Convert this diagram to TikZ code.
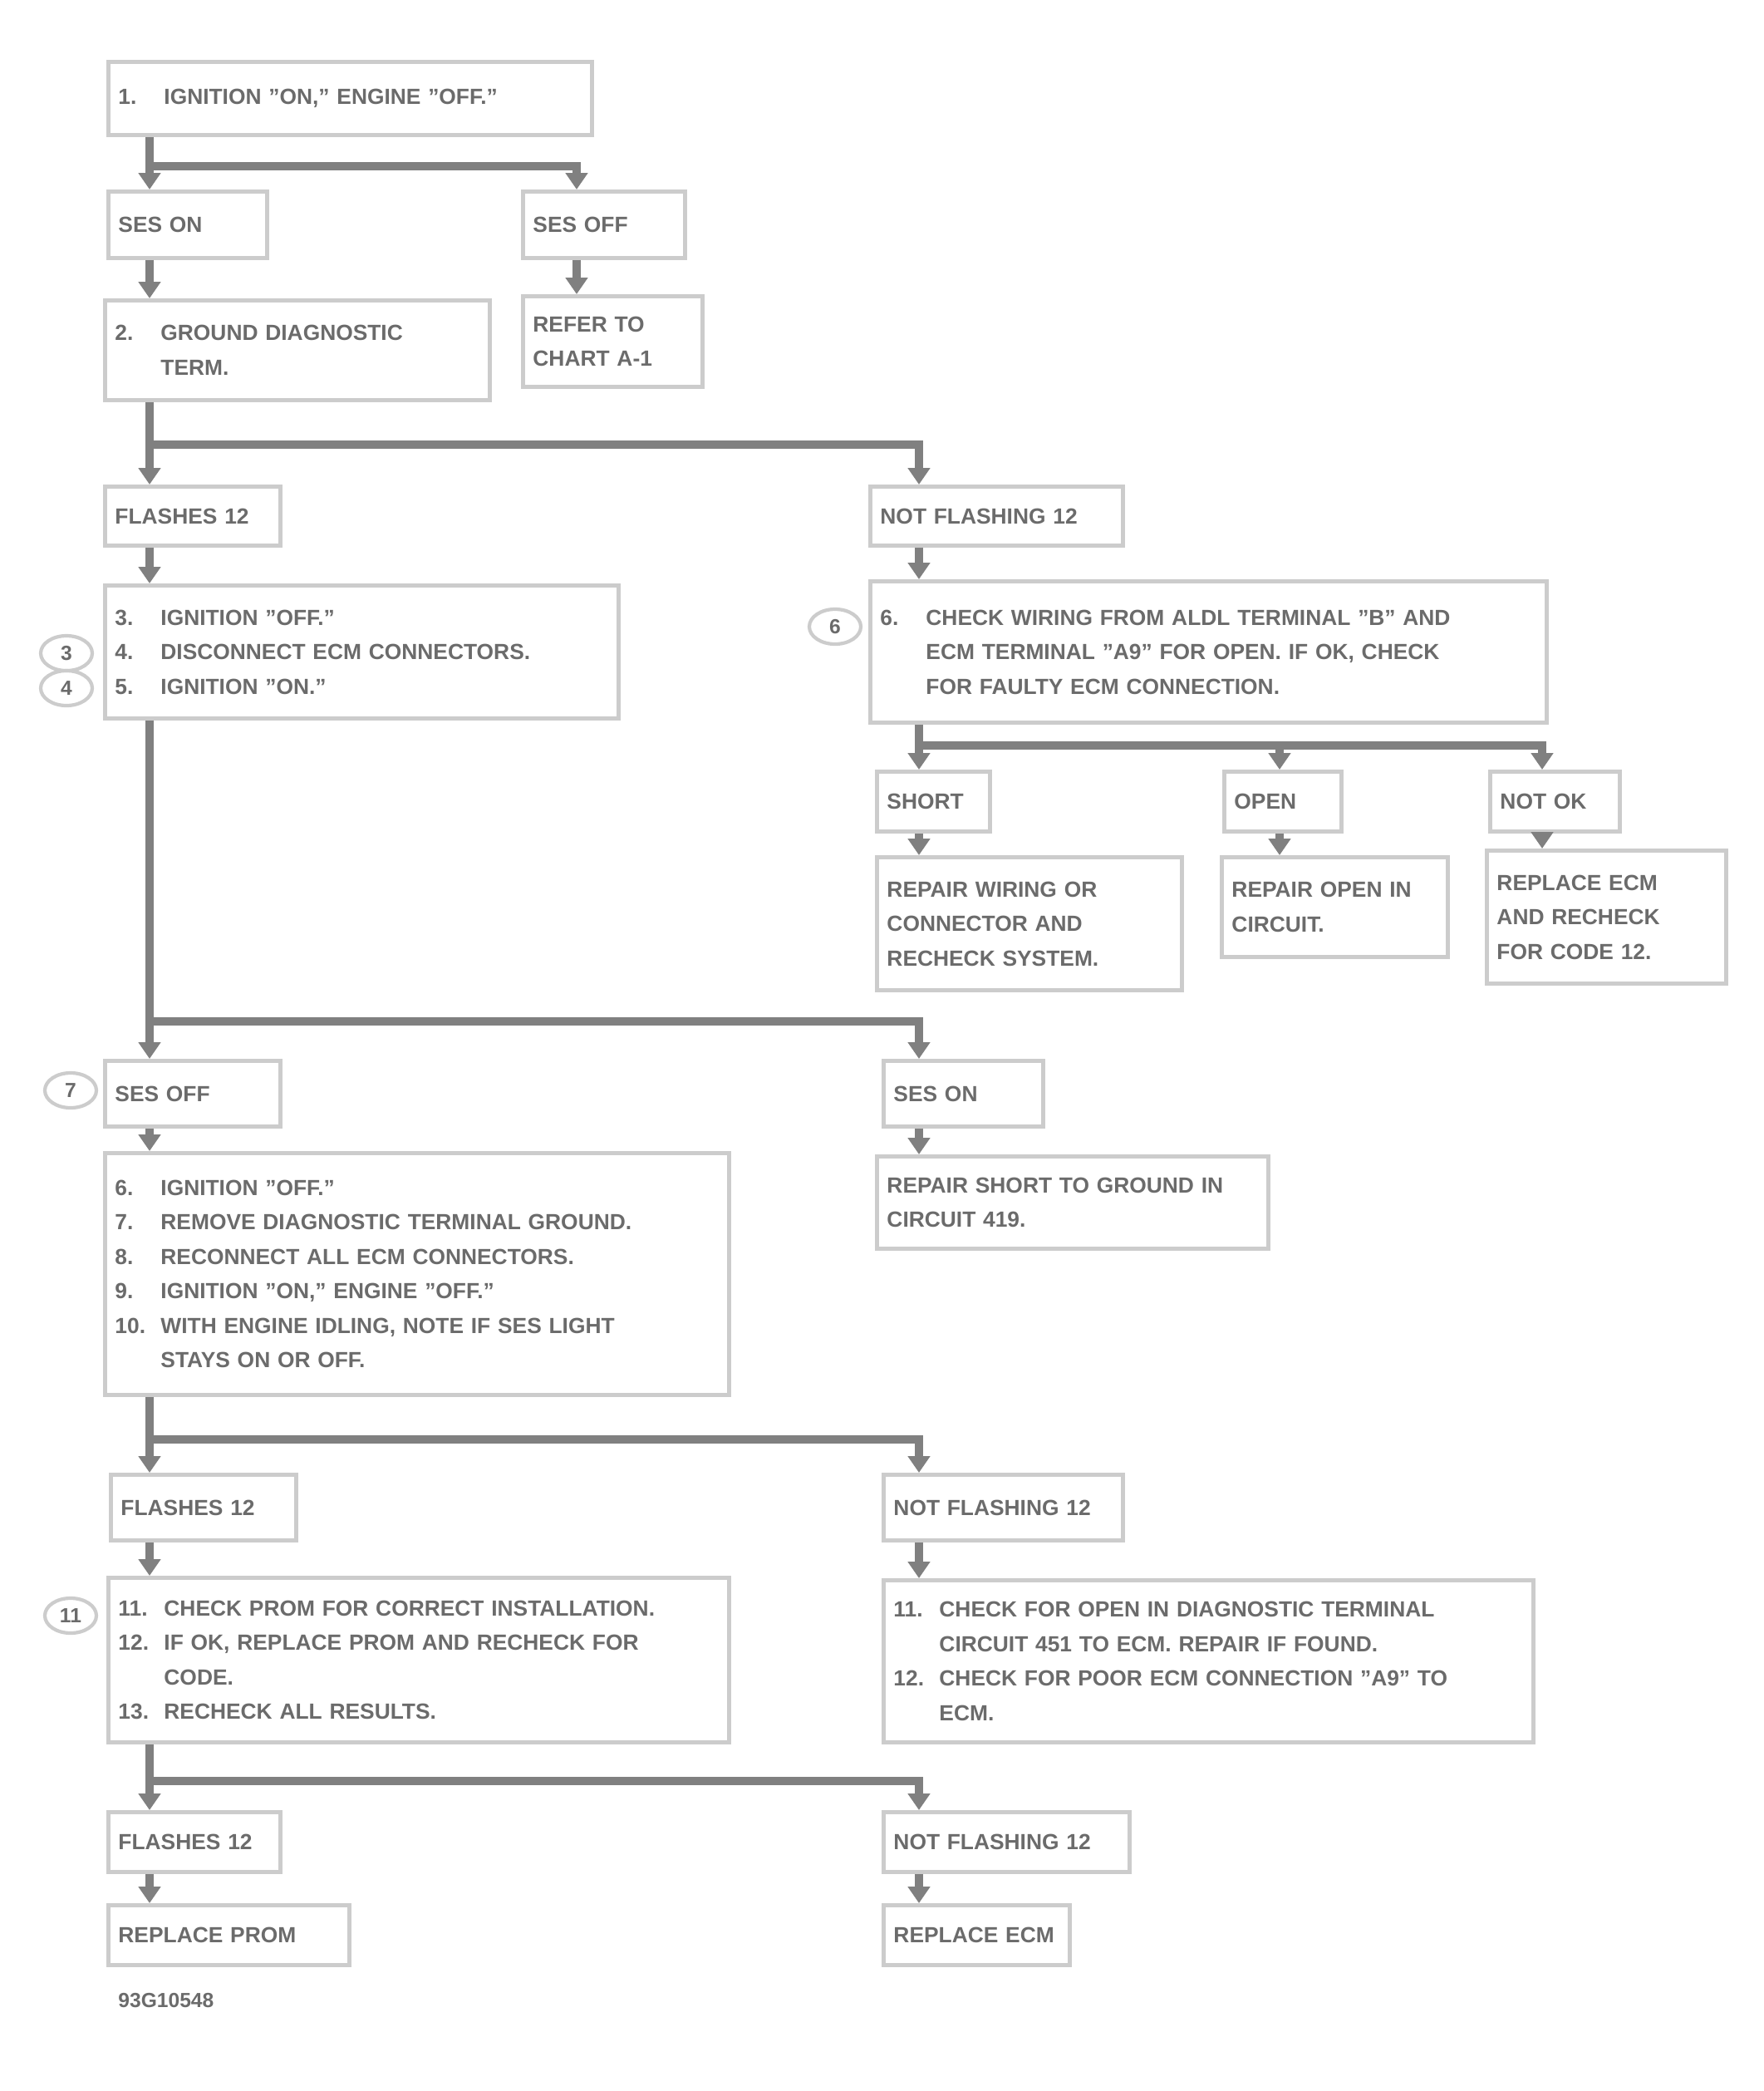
\documentclass[tikz,border=0pt]{standalone}
\usepackage{fontspec}
\setmainfont{Liberation Sans}
\usetikzlibrary{positioning,arrows.meta,shapes.geometric}

\definecolor{inkgray}{gray}{0.42}
\definecolor{linegray}{gray}{0.50}
\definecolor{boxgray}{gray}{0.80}

\newcommand{\stepno}[1]{\makebox[0.55cm][l]{#1}}
\newcommand{\cont}{\hspace*{0.55cm}}

\tikzset{
  stepbox/.style={draw=boxgray, line width=1.4pt, rectangle, anchor=north west,
    align=left, inner xsep=0.12cm, inner ysep=0.08cm, text=inkgray,
    font=\bfseries\fontsize{7.5}{11.8}\selectfont},
  callout/.style={draw=boxgray, line width=1.2pt, ellipse, minimum width=0.62cm,
    minimum height=0.42cm, inner sep=0pt, text=inkgray,
    font=\bfseries\fontsize{7}{8}\selectfont},
  wire/.style={draw=linegray, line width=2.6pt},
  flow/.style={wire, -{Triangle[length=0.2cm,width=0.26cm]}},
}

\begin{document}
\begin{tikzpicture}[x=1cm,y=1cm]
	\useasboundingbox (0,0) rectangle (21.23,-25.16);
	% columns of the connectors
	\coordinate (cL) at (1.80,0);
	\coordinate (cT) at (6.94,0);
	\coordinate (cR) at (11.06,0);
	\coordinate (cM) at (15.40,0);
	\coordinate (cF) at (18.56,0);

	%% start
	\node[stepbox, text width=5.58cm, minimum height=0.88cm] (top) at (1.28,-0.72)
		{\stepno{1.}IGNITION "ON," ENGINE "OFF."};
	\node[stepbox, text width=1.67cm, minimum height=0.80cm] (sesOn) at (1.28,-2.28) {SES ON};
	\node[stepbox, text width=1.71cm, minimum height=0.80cm] (sesOff) at (6.27,-2.28) {SES OFF};
	\node[stepbox, text width=4.39cm, minimum height=1.20cm] (gnd) at (1.24,-3.59)
		{\stepno{2.}GROUND DIAGNOSTIC\\\cont TERM.};
	\node[stepbox, text width=1.92cm, minimum height=1.09cm] (refA) at (6.27,-3.54)
		{REFER TO\\CHART A-1};

	%% first flash check
	\node[stepbox, text width=1.87cm, minimum height=0.71cm] (fl1) at (1.24,-5.83) {FLASHES 12};
	\node[stepbox, text width=2.80cm, minimum height=0.71cm] (nf1) at (10.45,-5.83) {NOT FLASHING 12};
	\node[stepbox, text width=5.94cm, minimum height=1.60cm] (chkL) at (1.24,-7.02)
		{\stepno{3.}IGNITION "OFF."\\\stepno{4.}DISCONNECT ECM CONNECTORS.\\\stepno{5.}IGNITION "ON."};
	\node[stepbox, text width=7.90cm, minimum height=1.70cm] (chkR) at (10.45,-6.97)
		{\stepno{6.}CHECK WIRING FROM ALDL TERMINAL "B" AND\\\cont ECM TERMINAL "A9" FOR OPEN. IF OK, CHECK\\\cont FOR FAULTY ECM CONNECTION.};
	\node[callout] (n3) at (0.80,-7.86) {3};
	\node[callout] (n4) at (0.80,-8.28) {4};
	\node[callout] (n6) at (10.05,-7.54) {6};

	% results of the wiring check
	\node[stepbox, text width=1.12cm, minimum height=0.72cm] (lbA) at (10.53,-9.26) {SHORT};
	\node[stepbox, text width=1.17cm, minimum height=0.72cm] (lbB) at (14.71,-9.26) {OPEN};
	\node[stepbox, text width=1.32cm, minimum height=0.72cm] (lbC) at (17.91,-9.26) {NOT OK};
	\node[stepbox, text width=3.43cm, minimum height=1.60cm] (resA) at (10.53,-10.29)
		{REPAIR WIRING OR\\CONNECTOR AND\\RECHECK SYSTEM.};
	\node[stepbox, text width=2.48cm, minimum height=1.20cm] (resB) at (14.68,-10.29)
		{REPAIR OPEN IN\\CIRCUIT.};
	\node[stepbox, text width=2.64cm, minimum height=1.60cm] (resC) at (17.87,-10.21)
		{REPLACE ECM\\AND RECHECK\\FOR CODE 12.};

	%% light check
	\node[stepbox, text width=1.87cm, minimum height=0.79cm] (sOff) at (1.24,-12.74) {SES OFF};
	\node[stepbox, text width=1.68cm, minimum height=0.79cm] (sOn) at (10.61,-12.74) {SES ON};
	\node[callout] (n7) at (0.85,-13.12) {7};
	\node[stepbox, text width=7.27cm, minimum height=2.91cm] (big) at (1.24,-13.85)
		{\stepno{6.}IGNITION "OFF."\\\stepno{7.}REMOVE DIAGNOSTIC TERMINAL GROUND.\\\stepno{8.}RECONNECT ALL ECM CONNECTORS.\\\stepno{9.}IGNITION "ON," ENGINE "OFF."\\\stepno{10.}WITH ENGINE IDLING, NOTE IF SES LIGHT\\\cont STAYS ON OR OFF.};
	\node[stepbox, text width=4.47cm, minimum height=1.11cm] (shrt) at (10.53,-13.89)
		{REPAIR SHORT TO GROUND IN\\CIRCUIT 419.};

	%% second flash check
	\node[stepbox, text width=1.99cm, minimum height=0.79cm] (fl2) at (1.31,-17.72) {FLASHES 12};
	\node[stepbox, text width=2.64cm, minimum height=0.79cm] (nf2) at (10.61,-17.72) {NOT FLASHING 12};
	\node[callout] (n11) at (0.85,-19.44) {11};
	\node[stepbox, text width=7.23cm, minimum height=1.98cm] (prom) at (1.28,-18.96)
		{\stepno{11.}CHECK PROM FOR CORRECT INSTALLATION.\\\stepno{12.}IF OK, REPLACE PROM AND RECHECK FOR\\\cont CODE.\\\stepno{13.}RECHECK ALL RESULTS.};
	\node[stepbox, text width=7.58cm, minimum height=1.95cm] (opn) at (10.61,-18.99)
		{\stepno{11.}CHECK FOR OPEN IN DIAGNOSTIC TERMINAL\\\cont CIRCUIT 451 TO ECM. REPAIR IF FOUND.\\\stepno{12.}CHECK FOR POOR ECM CONNECTION "A9" TO\\\cont ECM.};

	%% last flash check
	\node[stepbox, text width=1.83cm, minimum height=0.72cm] (fl3) at (1.28,-21.78) {FLASHES 12};
	\node[stepbox, text width=2.72cm, minimum height=0.72cm] (nf3) at (10.61,-21.78) {NOT FLASHING 12};
	\node[stepbox, text width=2.66cm, minimum height=0.72cm] (rpl) at (1.28,-22.90) {REPLACE PROM};
	\node[stepbox, text width=2.00cm, minimum height=0.72cm] (ecm) at (10.61,-22.90) {REPLACE ECM};

	\node[anchor=west, text=inkgray, font=\bfseries\fontsize{7}{8}\selectfont] (fig) at (1.30,-24.07) {93G10548};

	%% branch bars
	\coordinate (j1) at (1.80,-2.00);  \coordinate (r1) at (6.94,-2.00);
	\coordinate (j2) at (1.80,-5.35);  \coordinate (r2) at (11.06,-5.35);
	\coordinate (j3) at (11.06,-8.97); \coordinate (m3) at (15.40,-8.97); \coordinate (r3) at (18.56,-8.97);
	\coordinate (j4) at (1.80,-12.29); \coordinate (r4) at (11.06,-12.29);
	\coordinate (j5) at (1.80,-17.32); \coordinate (r5) at (11.06,-17.32);
	\coordinate (j6) at (1.80,-21.43); \coordinate (r6) at (11.06,-21.43);

	\draw[flow] (top.south -| j1) -- (j1) -- (r1) -- (sesOff.north -| r1);
	\draw[flow] (j1) -- (sesOn.north -| j1);
	\draw[flow] (gnd.south -| j2) -- (j2) -- (r2) -- (nf1.north -| r2);
	\draw[flow] (j2) -- (fl1.north -| j2);
	\draw[flow] (chkR.south -| j3) -- (j3) -- (r3) -- (lbC.north -| r3);
	\draw[flow] (j3) -- (lbA.north -| j3);
	\draw[flow] (m3) -- (lbB.north -| m3);
	\draw[flow] (chkL.south -| j4) -- (j4) -- (r4) -- (sOn.north -| r4);
	\draw[flow] (j4) -- (sOff.north -| j4);
	\draw[flow] (big.south -| j5) -- (j5) -- (r5) -- (nf2.north -| r5);
	\draw[flow] (j5) -- (fl2.north -| j5);
	\draw[flow] (prom.south -| j6) -- (j6) -- (r6) -- (nf3.north -| r6);
	\draw[flow] (j6) -- (fl3.north -| j6);

	%% straight steps
	\foreach \a/\b/\c in {sesOn/gnd/cL, sesOff/refA/cT, fl1/chkL/cL, nf1/chkR/cR,
		lbA/resA/cR, lbB/resB/cM, lbC/resC/cF, sOff/big/cL, sOn/shrt/cR,
		fl2/prom/cL, nf2/opn/cR, fl3/rpl/cL, nf3/ecm/cR}
		\draw[flow] (\a.south -| \c) -- (\b.north -| \c);
\end{tikzpicture}
\end{document}
